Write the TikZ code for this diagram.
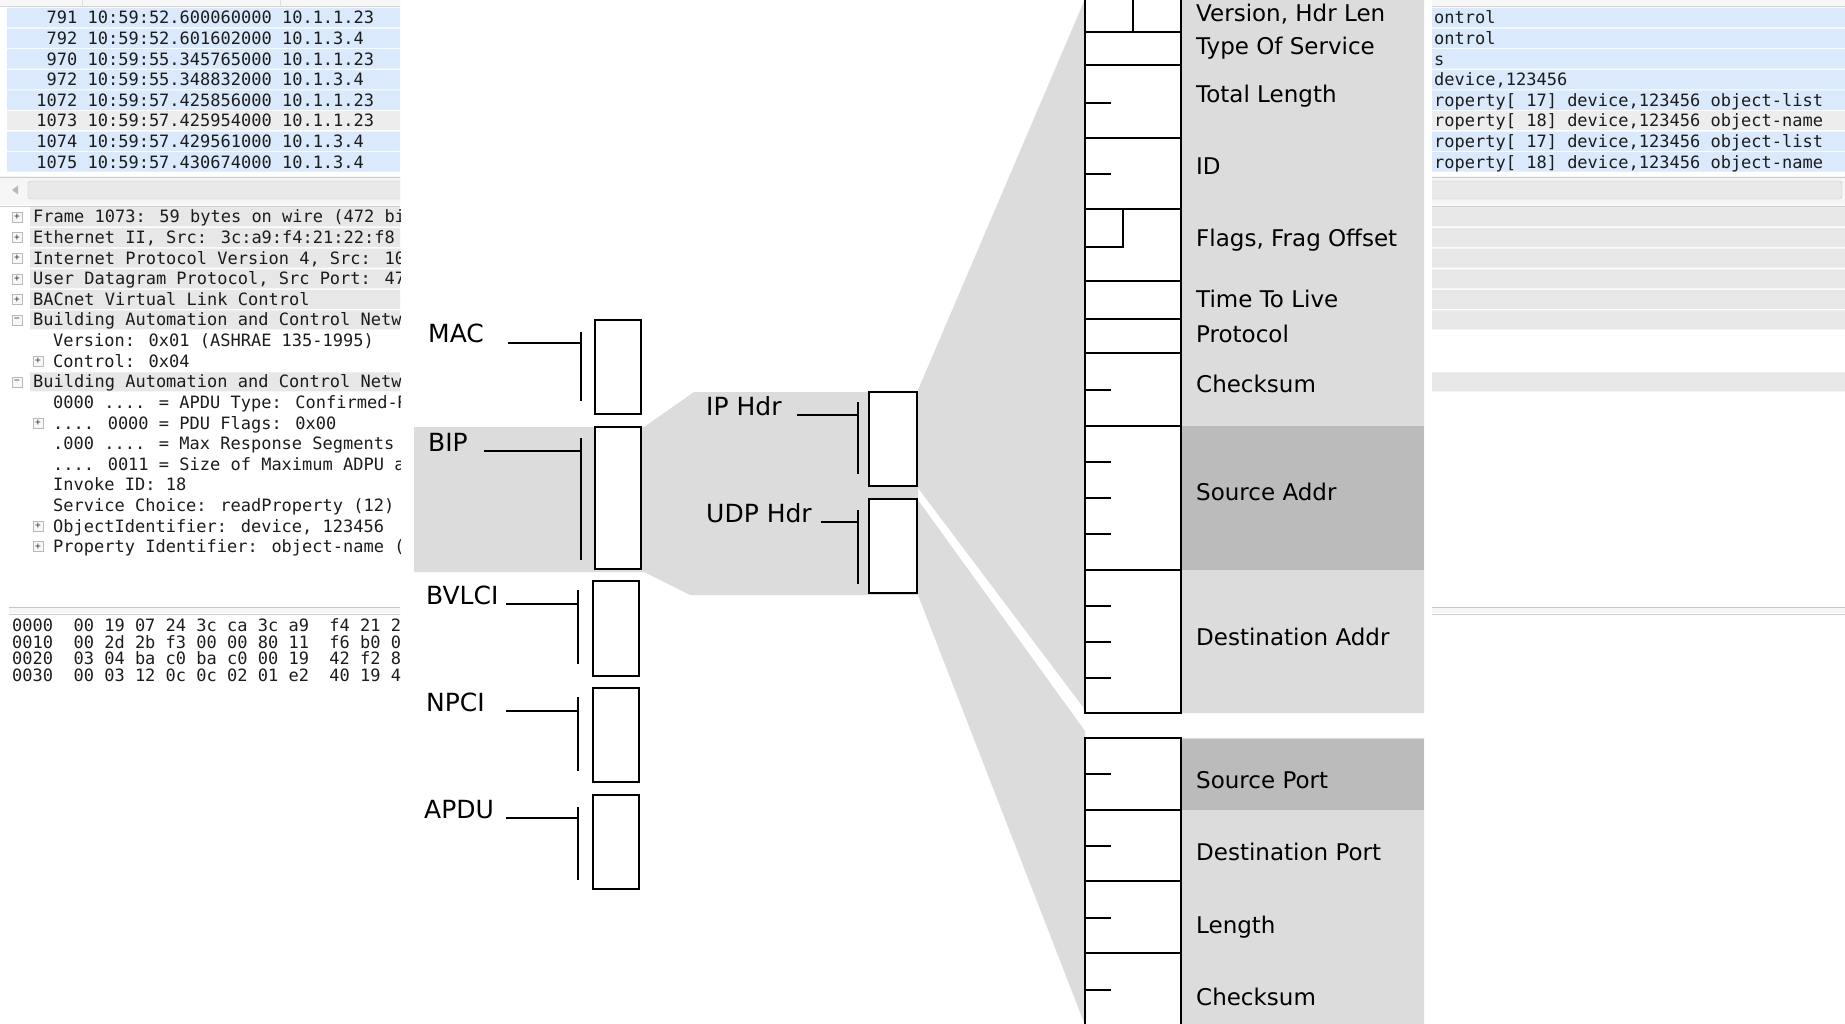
\documentclass[tikz,border=0pt]{standalone}
\usepackage{fontspec}
\newfontfamily\wsmono{DejaVu Sans Mono}
\newfontfamily\diagfont{DejaVu Sans}

\definecolor{wsblue}{RGB}{218,233,252}
\definecolor{wsgray}{RGB}{231,231,231}
\definecolor{wssel}{RGB}{237,237,237}
\definecolor{wstext}{RGB}{28,28,28}
\definecolor{fangray}{RGB}{220,220,220}
\definecolor{fandark}{RGB}{187,187,187}

\tikzset{
  wstxt/.style={anchor=base west, inner sep=0pt, text=wstext, font=\wsmono\fontsize{17}{20}\selectfont},
  expbox/.style={draw=gray!55, fill=gray!6, minimum size=10pt, inner sep=0pt, text=gray!40!black, font=\wsmono\fontsize{9.5}{9.5}\selectfont},
  pbox/.style={draw, line width=2.6pt, fill=white, inner sep=0pt, minimum width=46pt},
  plabel/.style={anchor=base west, inner sep=0pt, font=\diagfont\fontsize{25}{28}\selectfont},
  flabel/.style={anchor=base west, inner sep=0pt, font=\diagfont\fontsize{23}{26}\selectfont},
  conn/.style={line width=2.4pt},
  stack/.style={line width=2.6pt},
  tick/.style={line width=2.2pt},
}

\begin{document}
\begin{tikzpicture}[x=1pt, y=-1pt]
  \useasboundingbox (0,0) rectangle (1845,1024);
  \fill[white] (0,0) rectangle (1845,1024);

  % capture panes, left and right
  \begin{scope}
    \clip (0,0) rectangle (400,1024) (1432,0) rectangle (1845,1024);
    \fill[gray!6] (0,0) rectangle (1845,6);
    \draw[gray!35] (0,6.5) -- (1845,6.5);
    \draw[gray!25] (82,0) -- (82,6) (280,0) -- (280,6);
    \fill[wsblue] (7,8) rectangle (1845,27.5) (7,28.6) rectangle (1845,48.1)
      (7,49.2) rectangle (1845,68.7) (7,69.8) rectangle (1845,89.3)
      (7,90.4) rectangle (1845,109.9) (7,131.6) rectangle (1845,151.1)
      (7,152.2) rectangle (1845,171.7);
    \fill[wssel] (7,111) rectangle (1845,130.5);
    % scrollbar
    \fill[gray!7] (0,176) rectangle (1845,201);
    \draw[gray!40] (0,177) -- (1845,177);
    \draw[gray!45, fill=gray!17, rounded corners=3pt] (28,181) rectangle (1842,199);
    \fill[gray!55] (12,190) -- (18,185.5) -- (18,194.5) -- cycle;
    \fill[gray!7] (0,201) rectangle (1845,205);
    \draw[gray!40] (0,206) -- (1845,206);
    % tree rows
    \fill[wsgray] (30,207.5) rectangle (1845,226.5) (30,228.1) rectangle (1845,247.1)
      (30,248.7) rectangle (1845,267.7) (30,269.3) rectangle (1845,288.3)
      (30,289.9) rectangle (1845,308.9) (30,310.5) rectangle (1845,329.5)
      (30,372.3) rectangle (1845,391.3);
    % hex separator
    \draw[gray!45] (9,607) -- (1845,607);
    \fill[gray!7] (9,608) rectangle (1845,613);
    \draw[gray!40] (9,614) -- (1845,614);

    % packet list
    \node[wstxt] (p791) at (26,24) {\phantom{00}791 10:59:52.600060000 10.1.1.23};
    \node[wstxt] (p792) at (26,44.6) {\phantom{00}792 10:59:52.601602000 10.1.3.4};
    \node[wstxt] (p970) at (26,65.2) {\phantom{00}970 10:59:55.345765000 10.1.1.23};
    \node[wstxt] (p972) at (26,85.8) {\phantom{00}972 10:59:55.348832000 10.1.3.4};
    \node[wstxt] (p1072) at (26,106.4) {\phantom{0}1072 10:59:57.425856000 10.1.1.23};
    \node[wstxt] (p1073) at (26,127) {\phantom{0}1073 10:59:57.425954000 10.1.1.23};
    \node[wstxt] (p1074) at (26,147.6) {\phantom{0}1074 10:59:57.429561000 10.1.3.4};
    \node[wstxt] (p1075) at (26,168.2) {\phantom{0}1075 10:59:57.430674000 10.1.3.4};
    \node[wstxt] (q791) at (1434,24) {ontrol};
    \node[wstxt] (q792) at (1434,44.6) {ontrol};
    \node[wstxt] (q970) at (1434,65.2) {s};
    \node[wstxt] (q972) at (1434,85.8) {device,123456};
    \node[wstxt] (q1072) at (1434,106.4) {roperty[ 17] device,123456 object-list};
    \node[wstxt] (q1073) at (1434,127) {roperty[ 18] device,123456 object-name};
    \node[wstxt] (q1074) at (1434,147.6) {roperty[ 17] device,123456 object-list};
    \node[wstxt] (q1075) at (1434,168.2) {roperty[ 18] device,123456 object-name};

    % packet details
    \node[expbox] (xframe) at (17,217) {+};
    \node[expbox] (xeth) at (17,237.6) {+};
    \node[expbox] (xip) at (17,258.2) {+};
    \node[expbox] (xudp) at (17,278.8) {+};
    \node[expbox] (xbvlc) at (17,299.4) {+};
    \node[expbox] (xnpdu) at (17,320) {−};
    \node[expbox] (xctrl) at (38,361.2) {+};
    \node[expbox] (xapdu) at (17,381.8) {−};
    \node[expbox] (xflags) at (38,423) {+};
    \node[expbox] (xobj) at (38,526) {+};
    \node[expbox] (xprop) at (38,546.6) {+};
    \node[wstxt] (tframe) at (33,223) {Frame 1073: 59 bytes on wire (472 bi};
    \node[wstxt] (teth) at (33,243.6) {Ethernet II, Src: 3c:a9:f4:21:22:f8};
    \node[wstxt] (tip) at (33,264.2) {Internet Protocol Version 4, Src: 10};
    \node[wstxt] (tudp) at (33,284.8) {User Datagram Protocol, Src Port: 47};
    \node[wstxt] (tbvlc) at (33,305.4) {BACnet Virtual Link Control};
    \node[wstxt] (tnpdu) at (33,326) {Building Automation and Control Netw};
    \node[wstxt] (tver) at (53,346.6) {Version: 0x01 (ASHRAE 135-1995)};
    \node[wstxt] (tctrl) at (53,367.2) {Control: 0x04};
    \node[wstxt] (tapdu) at (33,387.8) {Building Automation and Control Netw};
    \node[wstxt] (ttype) at (53,408.4) {0000 .... = APDU Type: Confirmed-R};
    \node[wstxt] (tflags) at (53,429) {.... 0000 = PDU Flags: 0x00};
    \node[wstxt] (tseg) at (53,449.6) {.000 .... = Max Response Segments};
    \node[wstxt] (tsize) at (53,470.2) {.... 0011 = Size of Maximum ADPU a};
    \node[wstxt] (tinv) at (53,490.8) {Invoke ID: 18};
    \node[wstxt] (tserv) at (53,511.4) {Service Choice: readProperty (12)};
    \node[wstxt] (tobj) at (53,532) {ObjectIdentifier: device, 123456};
    \node[wstxt] (tprop) at (53,552.6) {Property Identifier: object-name (};

    % packet bytes
    \node[wstxt] (h0) at (12,631) {0000~~00 19 07 24 3c ca 3c a9~~f4 21 2};
    \node[wstxt] (h1) at (12,648) {0010~~00 2d 2b f3 00 00 80 11~~f6 b0 0};
    \node[wstxt] (h2) at (12,664) {0020~~03 04 ba c0 ba c0 00 19~~42 f2 8};
    \node[wstxt] (h3) at (12,681) {0030~~00 03 12 0c 0c 02 01 e2~~40 19 4};
  \end{scope}

  % grey fans
  \fill[fangray] (414,427) -- (644,427) -- (694,392) -- (918,392) -- (918,595)
    -- (690,595) -- (644,572) -- (414,572) -- cycle;
  \fill[fangray] (918,390) -- (1085,-1) -- (1424,-1) -- (1424,713) -- (1085,713)
    -- (1083,707) -- (918,488) -- cycle;
  \fill[fangray] (918,500) -- (1085,731) -- (1085,738) -- (1424,738) -- (1424,1025)
    -- (1085,1025) -- (918,595) -- cycle;
  \fill[fandark] (1181,426) rectangle (1424,570);
  \fill[fandark] (1181,739) rectangle (1424,810);

  % BACnet frame
  \node[pbox, minimum height=94pt] (mac) at (618,367) {};
  \node[pbox, minimum height=142pt] (bip) at (618,498) {};
  \node[pbox, minimum height=95pt] (bvlci) at (616,628.5) {};
  \node[pbox, minimum height=94pt] (npci) at (616,735) {};
  \node[pbox, minimum height=94pt] (apdu) at (616,842) {};
  \node[plabel] (lmac) at (428,343) {MAC};
  \node[plabel] (lbip) at (428,451) {BIP};
  \node[plabel] (lbvlci) at (426,604) {BVLCI};
  \node[plabel] (lnpci) at (426,711) {NPCI};
  \node[plabel] (lapdu) at (424,818) {APDU};
  \coordinate (macbar) at (581,332);
  \coordinate (bipbar) at (581,438);
  \coordinate (bvlcibar) at (578,590);
  \coordinate (npcibar) at (578,697);
  \coordinate (apdubar) at (578,807);
  \draw[conn] (macbar) -- ++(0,69);
  \draw[conn] (bipbar) -- ++(0,122);
  \draw[conn] (bvlcibar) -- ++(0,74);
  \draw[conn] (npcibar) -- ++(0,74);
  \draw[conn] (apdubar) -- ++(0,73);
  \draw[conn, shorten <=24pt] (lmac.base east) -- (lmac.base east -| macbar);
  \draw[conn, shorten <=16pt] (lbip.base east) -- (lbip.base east -| bipbar);
  \draw[conn, shorten <=7pt] (lbvlci.base east) -- (lbvlci.base east -| bvlcibar);
  \draw[conn, shorten <=21pt] (lnpci.base east) -- (lnpci.base east -| npcibar);
  \draw[conn, shorten <=12pt] (lapdu.base east) -- (lapdu.base east -| apdubar);

  % BIP
  \node[pbox, minimum width=48pt, minimum height=94pt] (iphdr) at (893,439) {};
  \node[pbox, minimum width=48pt, minimum height=94pt] (udphdr) at (893,546) {};
  \node[plabel] (lip) at (706,415) {IP Hdr};
  \node[plabel] (ludp) at (706,522) {UDP Hdr};
  \coordinate (ipbar) at (858,402);
  \coordinate (udpbar) at (858,510);
  \draw[conn] (ipbar) -- ++(0,72);
  \draw[conn] (udpbar) -- ++(0,74);
  \draw[conn, shorten <=15pt] (lip.base east) -- (lip.base east -| ipbar);
  \draw[conn, shorten <=9pt] (ludp.base east) -- (ludp.base east -| udpbar);

  % IP header
  \draw[stack, fill=white] (1085,-5) rectangle (1181,713);
  \draw[stack] (1085,32) -- (1181,32) (1085,65) -- (1181,65) (1085,138) -- (1181,138)
    (1085,209) -- (1181,209) (1085,281) -- (1181,281) (1085,319) -- (1181,319)
    (1085,353) -- (1181,353) (1085,426) -- (1181,426) (1085,570) -- (1181,570);
  \draw[stack] (1133,-5) -- (1133,32);
  \draw[stack] (1085,247) -| (1123,209);
  \draw[tick] (1085,103) -- ++(26,0) (1085,174) -- ++(26,0) (1085,390) -- ++(26,0)
    (1085,462) -- ++(26,0) (1085,498) -- ++(26,0) (1085,534) -- ++(26,0)
    (1085,606) -- ++(26,0) (1085,642) -- ++(26,0) (1085,678) -- ++(26,0);
  \node[flabel] (fver) at (1196,22) {Version, Hdr Len};
  \node[flabel] (ftos) at (1196,55) {Type Of Service};
  \node[flabel] (ftot) at (1196,103) {Total Length};
  \node[flabel] (fid) at (1196,175) {ID};
  \node[flabel] (fflg) at (1196,247) {Flags, Frag Offset};
  \node[flabel] (fttl) at (1196,308) {Time To Live};
  \node[flabel] (fpro) at (1196,343) {Protocol};
  \node[flabel] (fchk) at (1196,392) {Checksum};
  \node[flabel] (fsrc) at (1196,500) {Source Addr};
  \node[flabel] (fdst) at (1196,645) {Destination Addr};

  % UDP header
  \draw[stack, fill=white] (1085,738) rectangle (1181,1030);
  \draw[stack] (1085,810) -- (1181,810) (1085,881) -- (1181,881) (1085,953) -- (1181,953);
  \draw[tick] (1085,774) -- ++(26,0) (1085,846) -- ++(26,0) (1085,918) -- ++(26,0)
    (1085,990) -- ++(26,0);
  \node[flabel] (usrc) at (1196,788) {Source Port};
  \node[flabel] (udst) at (1196,860) {Destination Port};
  \node[flabel] (ulen) at (1196,933) {Length};
  \node[flabel] (uchk) at (1196,1005) {Checksum};
\end{tikzpicture}
\end{document}
